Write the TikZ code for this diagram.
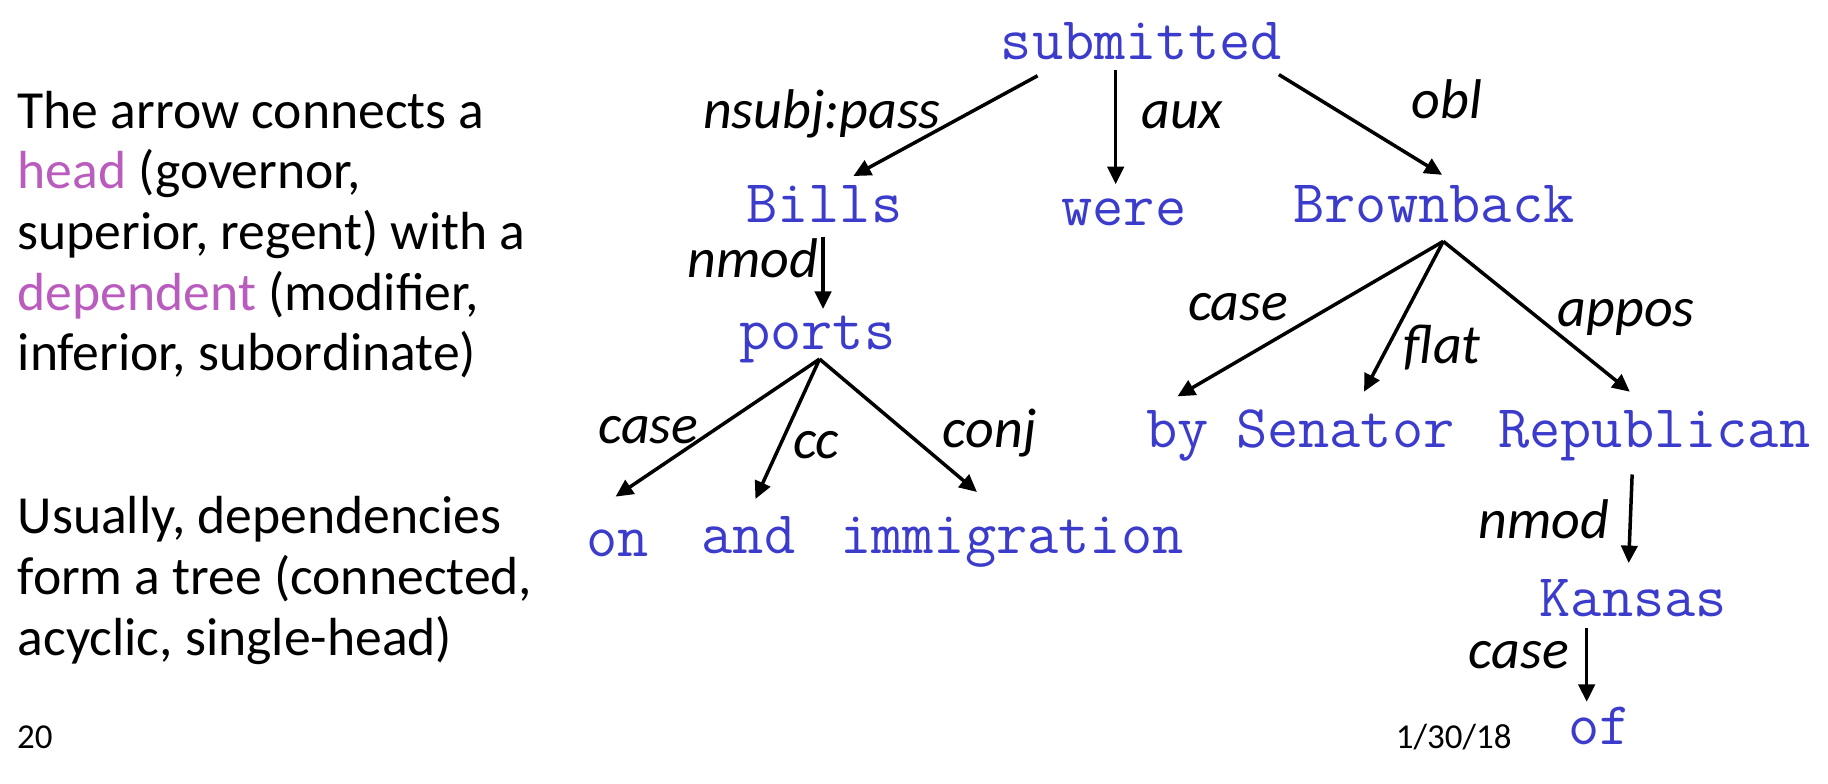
\documentclass[tikz,border=0pt]{standalone}
\usepackage{fontspec}
\setmainfont{Carlito}
\usetikzlibrary{arrows.meta}
\definecolor{wordblue}{RGB}{60,60,204}
\definecolor{headpurple}{RGB}{185,92,190}
\begin{document}
\begin{tikzpicture}[x=1pt,y=-1pt,
  word/.style={font=\ttfamily\fontsize{52}{56}\selectfont, text=wordblue, inner sep=0pt, anchor=base},
  rel/.style={font=\itshape\fontsize{48}{52}\selectfont, inner sep=0pt, anchor=base},
  bodyline/.style={font=\fontsize{46}{52}\selectfont, inner sep=0pt, anchor=base west},
  smalltext/.style={font=\fontsize{30}{34}\selectfont, inner sep=0pt, anchor=base},
  dep/.style={-{Triangle[length=15pt,width=14pt]}, line width=3pt}
]
\useasboundingbox (0,0) rectangle (1568,672);
% left text
\node[bodyline] (t1) at (15,110) {The arrow connects a};
\node[bodyline] (t2) at (15,162) {\textcolor{headpurple}{head} (governor,};
\node[bodyline] (t3) at (15,214) {superior, regent) with a};
\node[bodyline] (t4) at (15,266) {\textcolor{headpurple}{dependent} (modifier,};
\node[bodyline] (t5) at (15,318) {inferior, subordinate)};
\node[bodyline] (u1) at (15,458) {Usually, dependencies};
\node[bodyline] (u2) at (15,510) {form a tree (connected,};
\node[bodyline] (u3) at (15,562) {acyclic, single-head)};
\node[smalltext] (pg) at (30,642) {20};
\node[smalltext] (date) at (1247,642) {1/30/18};
% words
\node[word] (submitted) at (979,51) {submitted};
\node[word] (Bills) at (707,191) {Bills};
\node[word] (were) at (964,193) {were};
\node[word] (Brownback) at (1230,191) {Brownback};
\node[word] (ports) at (701,300) {ports};
\node[word] (on) at (530,477) {on};
\node[word] (and) at (642,475) {and};
\node[word] (immigration) at (868,475) {immigration};
\node[word] (by) at (1010,384) {by};
\node[word] (Senator) at (1154,384) {Senator};
\node[word] (Republican) at (1419,384) {Republican};
\node[word] (Kansas) at (1401,529) {Kansas};
\node[word] (of) at (1372,639) {of};
% relation labels
\node[rel] (lnsubj) at (705,110) {nsubj:pass};
\node[rel] (laux) at (1014,110) {aux};
\node[rel] (lobl) at (1241,102) {obl};
\node[rel] (lnmod1) at (646,238) {nmod};
\node[rel] (lcase1) at (556,380) {case};
\node[rel] (lcc) at (700,393) {cc};
\node[rel] (lconj) at (849,384) {conj};
\node[rel] (lcase2) at (1062,275) {case};
\node[rel] (lflat) at (1237,312) {flat};
\node[rel] (lappos) at (1395,280) {appos};
\node[rel] (lnmod2) at (1324,462) {nmod};
\node[rel] (lcase3) at (1303,573) {case};
% arrows
\draw[dep] ([shift={(-89,14)}]submitted.base) -- ([shift={(25,-40)}]Bills.base);
\draw[dep] ([shift={(-22,9)}]submitted.base) -- ([shift={(-7,-35)}]were.base);
\draw[dep] ([shift={(118,13)}]submitted.base) -- ([shift={(7,-41)}]Brownback.base);
\draw[dep] ([shift={(-1,12)}]Bills.base) -- ([shift={(5,-35)}]ports.base);
\draw[dep] ([shift={(2,8)}]ports.base) -- ([shift={(-2,-51)}]on.base);
\draw[dep] ([shift={(2,8)}]ports.base) -- ([shift={(6,-47)}]and.base);
\draw[dep] ([shift={(2,8)}]ports.base) -- ([shift={(-30,-53)}]immigration.base);
\draw[dep] ([shift={(8,16)}]Brownback.base) -- ([shift={(0,-44)}]by.base);
\draw[dep] ([shift={(8,16)}]Brownback.base) -- ([shift={(16,-48)}]Senator.base);
\draw[dep] ([shift={(8,16)}]Brownback.base) -- ([shift={(-21,-48)}]Republican.base);
\draw[dep] ([shift={(-19,23)}]Republican.base) -- ([shift={(-4,-46)}]Kansas.base);
\draw[dep] ([shift={(-40,10)}]Kansas.base) -- ([shift={(-11,-37)}]of.base);
\end{tikzpicture}
\end{document}
